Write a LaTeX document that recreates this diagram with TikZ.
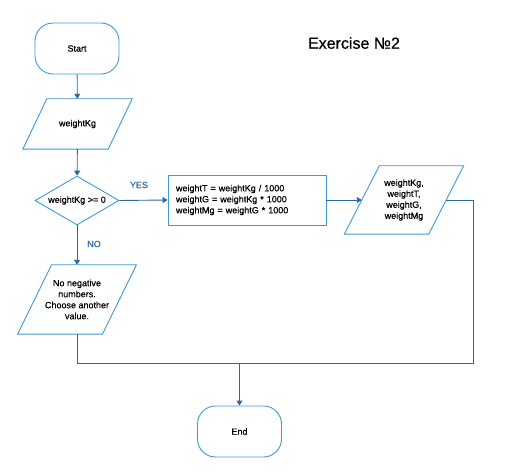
\documentclass[tikz,border=0pt]{standalone}
\usepackage{fontspec}
\setmainfont{Liberation Sans}[RawFeature={embolden=0.6}]
\usetikzlibrary{shapes.geometric,arrows.meta,calc}

\definecolor{shapeblue}{HTML}{3D98DA}
\definecolor{wireblue}{HTML}{2A6A9E}
\definecolor{labelblue}{HTML}{2F6EA5}

\tikzset{
  every node/.style={font=\fontsize{9}{11}\selectfont, text=black},
  terminal/.style={draw=shapeblue, line width=0.9pt, rounded corners=18pt,
    minimum width=84pt, minimum height=51pt, inner sep=0pt},
  iobox/.style={inner sep=0pt, align=center},
  decision/.style={draw=shapeblue, line width=0.9pt, diamond, aspect=1.71,
    minimum width=84pt, minimum height=49pt, inner sep=0pt},
  process/.style={draw=shapeblue, line width=0.9pt, minimum width=158pt,
    minimum height=50pt, text width=142pt, inner xsep=8pt, align=left},
  wire/.style={draw=wireblue, line width=0.9pt},
  flow/.style={wire, -{Triangle[length=5pt,width=6pt]}},
  tag/.style={text=labelblue, font=\fontsize{9}{11}\selectfont}
}

% parallelogram drawn around an invisible node: #1 node name, #2 skew
\newcommand{\slanted}[2]{%
  \draw[shapeblue, line width=0.9pt]
    ([xshift=#2/2]#1.north west) -- ([xshift=#2/2]#1.north east) --
    ([xshift=-#2/2]#1.south east) -- ([xshift=-#2/2]#1.south west) -- cycle;}

\begin{document}
\begin{tikzpicture}[x=1pt, y=-1pt]
  \useasboundingbox (0,0) rectangle (515,476);

  \node[font=\fontsize{16}{19}\selectfont] (title) at (354,43) {Exercise №2};

  \node[terminal] (start) at (77,48.5) {Start};

  \node[iobox, minimum width=85pt, minimum height=50pt] (in) at (77.5,124) {weightKg};
  \slanted{in}{24pt}

  \node[decision] (dec) at (77,200.5) {weightKg >= 0};

  \node[process] (proc) at (247,200) {weightT = weightKg / 1000\\weightG = weightKg * 1000\\weightMg = weightG * 1000};

  \node[iobox, minimum width=84pt, minimum height=68pt] (out) at (404,200) {weightKg,\\weightT,\\weightG,\\weightMg};
  \slanted{out}{35pt}

  \node[iobox, minimum width=84.5pt, minimum height=69pt] (neg) at (77,299.5) {No negative\\numbers.\\Choose another\\value.};
  \slanted{neg}{34pt}

  \node[terminal] (end) at (239.5,431.5) {End};

  \coordinate (join) at (239.5,363);
  \coordinate (bend) at (473,200);

  \draw[flow] (start) -- (in);
  \draw[flow] (in) -- (dec);
  \draw[flow] (dec.east) -- (proc.west);
  \draw[flow] (proc.east) -- (out.west);
  \draw[flow] (dec.south) -- (neg.north);
  \draw[wire] (out.east) -- (bend) |- (join);
  \draw[wire] (neg.south) |- (join);
  \draw[flow] (join) -- (end.north);

  \node[tag] (yes) at (139,185) {YES};
  \node[tag] (no) at (94,244) {NO};
\end{tikzpicture}
\end{document}
